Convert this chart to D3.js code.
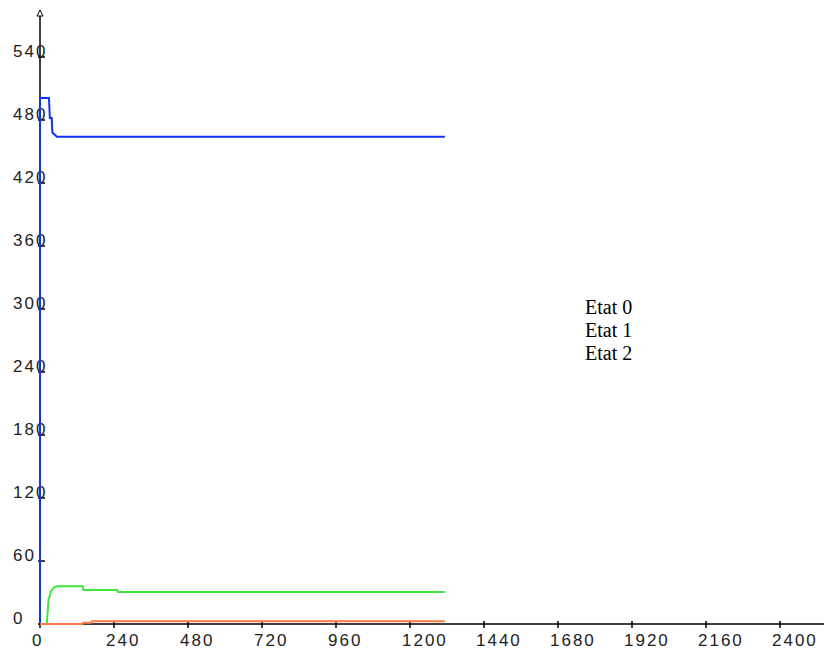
<!DOCTYPE html>
<html>
<head>
<meta charset="utf-8">
<script src="https://cdn.jsdelivr.net/npm/d3@7/dist/d3.min.js"></script>
<style>
  html, body { margin: 0; padding: 0; background: #fff; }
  svg { display: block; }
</style>
</head>
<body>
<svg id="chart" width="824" height="654"></svg>
<script>
// ---- data ----
const xTickValues = [0, 240, 480, 720, 960, 1200, 1440, 1680, 1920, 2160, 2400];
const yTickValues = [0, 60, 120, 180, 240, 300, 360, 420, 480, 540];
const legendLabels = ["Etat 0", "Etat 1", "Etat 2"];

const blueTimes  = [0, 0, 29, 32, 38, 40, 48, 55, 1313];
const blueValues = [0, 501, 501, 482, 482, 468, 466, 464, 464];

const greenTimes  = [0, 22, 25, 28, 32, 35, 40, 46, 55, 138, 141, 250, 253, 1313];
const greenValues = [0, 0, 12, 24, 27, 31, 33, 35, 36, 36, 32.4, 32.4, 30.5, 30.5];

const orangeTimes  = [0, 138, 140, 165, 168, 1313];
const orangeValues = [0, 0, 1.2, 1.2, 2.7, 2.7];

// ---- drawing ----
const svg = d3.select("#chart");
const x = d3.scaleLinear().domain([0, 2400]).range([40, 780]);
const y = d3.scaleLinear().domain([0, 540]).range([624, 57]);

const axisG = svg.append("g");
// x axis line
axisG.append("line")
  .attr("x1", x(0)).attr("x2", 824)
  .attr("y1", y(0)).attr("y2", y(0))
  .attr("stroke", "#000").attr("stroke-width", 1.5);
// y axis line
axisG.append("line")
  .attr("x1", x(0)).attr("x2", x(0))
  .attr("y1", y(0)).attr("y2", 16)
  .attr("stroke", "#000").attr("stroke-width", 1.5);
// arrow head
axisG.append("path")
  .attr("d", `M${x(0)},10 L${x(0)-3},16 L${x(0)+3},16 Z`)
  .attr("fill", "#fff").attr("stroke", "#000").attr("stroke-width", 1);

// x ticks & labels
xTickValues.forEach(v => {
  axisG.append("line")
    .attr("x1", x(v)).attr("x2", x(v))
    .attr("y1", y(0) - 3).attr("y2", y(0) + 4)
    .attr("stroke", "#000").attr("stroke-width", 1.5);
  axisG.append("text")
    .attr("x", x(v) - 8).attr("y", 646)
    .attr("font-family", "Liberation Sans, Arial, sans-serif")
    .attr("font-size", 17).attr("letter-spacing", 2)
    .attr("fill", "#222")
    .text(v);
});
// y ticks & labels
yTickValues.forEach(v => {
  axisG.append("line")
    .attr("x1", x(0) - 2).attr("x2", x(0) + 5)
    .attr("y1", y(v)).attr("y2", y(v))
    .attr("stroke", "#000").attr("stroke-width", 1.5);
  axisG.append("text")
    .attr("x", 13).attr("y", y(v))
    .attr("font-family", "Liberation Sans, Arial, sans-serif")
    .attr("font-size", 17).attr("letter-spacing", 2)
    .attr("fill", "#222")
    .text(v);
});

const line = d3.line().x(d => x(d[0])).y(d => y(d[1]));
const series = [
  { t: blueTimes, v: blueValues, color: "#1030ff" },
  { t: greenTimes, v: greenValues, color: "#3ce83c" },
  { t: orangeTimes, v: orangeValues, color: "#ff7a45" }
];
series.forEach(s => {
  svg.append("path")
    .datum(s.t.map((t, i) => [t, s.v[i]]))
    .attr("d", line)
    .attr("fill", "none")
    .attr("stroke", s.color)
    .attr("stroke-width", 2);
});

// legend (text only)
legendLabels.forEach((lbl, i) => {
  svg.append("text")
    .attr("x", 585).attr("y", 314 + i * 23)
    .attr("font-family", "Liberation Serif, Times New Roman, serif")
    .attr("font-size", 20)
    .attr("fill", "#000")
    .text(lbl);
});
</script>
</body>
</html>
